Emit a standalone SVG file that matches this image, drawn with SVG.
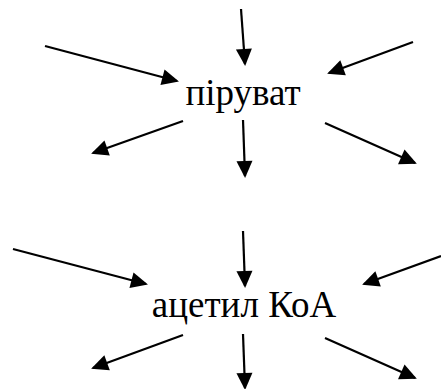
<svg xmlns="http://www.w3.org/2000/svg" width="441" height="389" viewBox="0 0 441 389">
<style>
.t{font-size:37px;fill:#000;text-anchor:middle}
.c line{stroke:#000;stroke-width:2.2;marker-end:url(#ah)}
</style>
<defs>
<marker id="ah" markerUnits="userSpaceOnUse" markerWidth="18" markerHeight="16" refX="15" refY="8" orient="auto" overflow="visible">
<path d="M0,0 L17,8 L0,16 z" fill="#000"/>
</marker>
</defs>
<rect width="441" height="389" fill="#fff"/>
<g id="piruvat"><text class="t" font-family="'Liberation Serif', 'Times New Roman', serif" x="243" y="105">піруват</text></g>
<g id="acetyl"><text class="t" font-family="'Liberation Serif', 'Times New Roman', serif" x="244" y="317">ацетил КоА</text></g>
<g class="c" id="connectors">
<line x1="241" y1="9" x2="245" y2="64"/>
<line x1="45" y1="46" x2="177" y2="81"/>
<line x1="413" y1="42" x2="329" y2="73"/>
<line x1="183" y1="121" x2="93" y2="153"/>
<line x1="243" y1="120" x2="245" y2="176"/>
<line x1="325" y1="123" x2="415" y2="163"/>
<line x1="13" y1="249" x2="146" y2="284"/>
<line x1="243" y1="231" x2="245" y2="286"/>
<line x1="441" y1="256" x2="364" y2="284"/>
<line x1="183" y1="335" x2="93" y2="368"/>
<line x1="243" y1="334" x2="245" y2="388"/>
<line x1="325" y1="338" x2="415" y2="378"/>
</g>
</svg>
